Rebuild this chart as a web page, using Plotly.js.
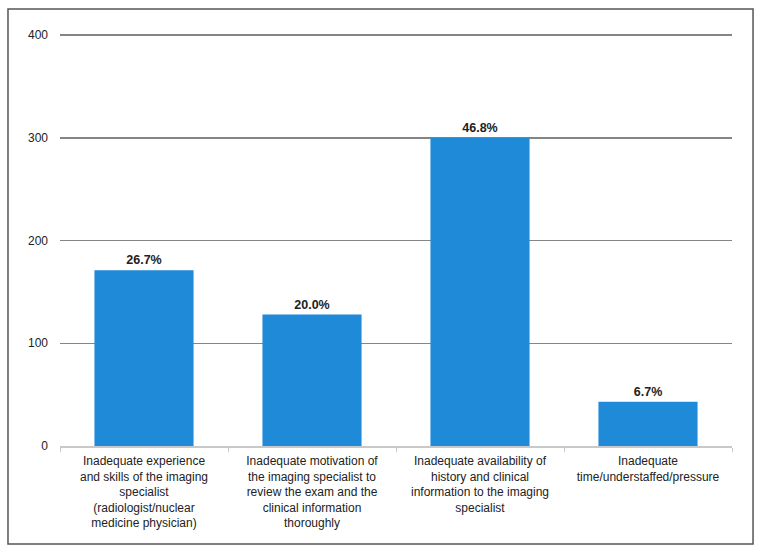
<!DOCTYPE html>
<html>
<head>
<meta charset="utf-8">
<script src="https://cdn.plot.ly/plotly-3.0.1.min.js"></script>
<style>
  html, body { margin: 0; padding: 0; background: #fff; }
  #chart { width: 762px; height: 554px; }
</style>
</head>
<body>
<div id="chart"></div>
<script>
// categories (reasons) and counts
var reasons = [
  'Inadequate experience<br>and skills of the imaging<br>specialist<br>(radiologist/nuclear<br>medicine physician)',
  'Inadequate motivation of<br>the imaging specialist to<br>review the exam and the<br>clinical information<br>thoroughly',
  'Inadequate availability of<br>history and clinical<br>information to the imaging<br>specialist',
  'Inadequate<br>time/understaffed/pressure'
];
var counts = [171, 128, 300, 43];
var pctLabels = ['26.7%', '20.0%', '46.8%', '6.7%'];
var yTicks = [0, 100, 200, 300, 400];

var bars = {
  x: reasons,
  y: counts,
  type: 'bar',
  text: pctLabels,
  textposition: 'outside',
  cliponaxis: false,
  textfont: { family: 'Liberation Sans, Arial, sans-serif', size: 12.5, color: '#222', weight: 'bold' },
  marker: { color: '#1f8ad8' },
  hoverinfo: 'x+y'
};

var layout = {
  width: 762,
  height: 554,
  margin: { l: 60, r: 30, t: 33, b: 108 },
  paper_bgcolor: '#fff',
  plot_bgcolor: '#fff',
  bargap: 0.41,
  showlegend: false,
  font: { family: 'Liberation Sans, Arial, sans-serif', size: 12, color: '#222' },
  xaxis: {
    type: 'category',
    showline: true,
    linecolor: '#c8c8c8',
    linewidth: 1.5,
    ticks: 'outside',
    tickson: 'boundaries',
    ticklen: 4,
    tickcolor: '#c8c8c8',
    ticklabelstandoff: 3,
    tickfont: { size: 12, color: '#222' },
    showgrid: false
  },
  yaxis: {
    range: [0, 402],
    tickvals: yTicks,
    showgrid: true,
    gridcolor: '#858585',
    gridwidth: 1.5,
    zeroline: false,
    showline: false,
    ticks: '',
    ticklabelstandoff: 11,
    tickfont: { size: 12, color: '#222' }
  },
  shapes: [{
    type: 'rect',
    xref: 'paper', yref: 'paper',
    x0: -0.0774, x1: 1.0313,
    y0: -0.2372, y1: 1.0583,
    line: { color: '#555', width: 1.5 },
    fillcolor: 'rgba(0,0,0,0)',
    layer: 'below'
  }]
};

Plotly.newPlot('chart', [bars], layout, { displayModeBar: false, staticPlot: true });
</script>
</body>
</html>
